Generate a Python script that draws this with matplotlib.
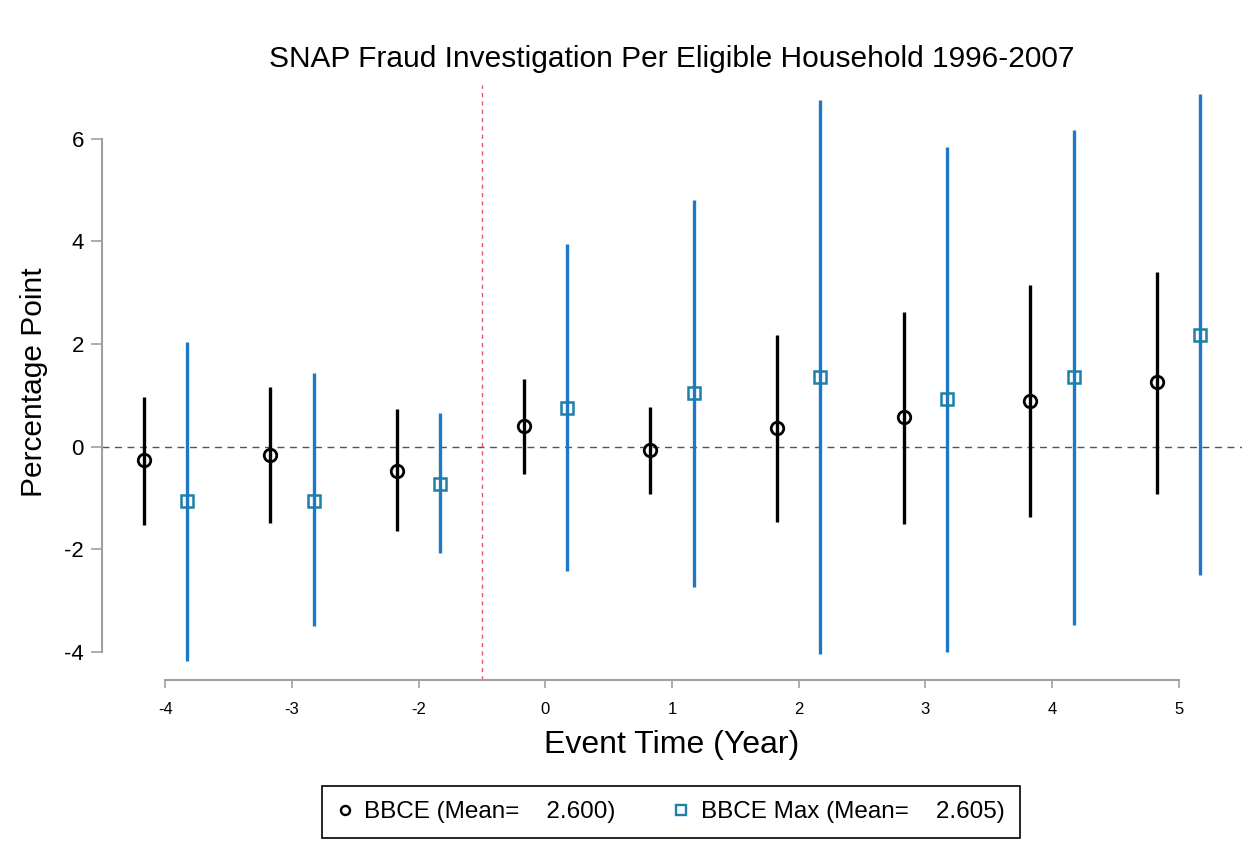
import matplotlib
matplotlib.use("Agg")
import matplotlib.pyplot as plt
import numpy as np
from matplotlib.lines import Line2D

# event-time categories (year -1 is the omitted reference period)
event_labels = ["-4", "-3", "-2", "0", "1", "2", "3", "4", "5"]

# BBCE estimates and 95% CI, percentage points
bbce_coef = [-0.26, -0.16, -0.47, 0.40, -0.06, 0.36, 0.57, 0.89, 1.25]
bbce_lo = [-1.52, -1.49, -1.65, -0.53, -0.92, -1.46, -1.51, -1.37, -0.93]
bbce_hi = [0.97, 1.17, 0.73, 1.31, 0.78, 2.18, 2.62, 3.15, 3.41]

# BBCE Max estimates and 95% CI
bmax_coef = [-1.07, -1.06, -0.72, 0.76, 1.05, 1.35, 0.93, 1.35, 2.18]
bmax_lo = [-4.17, -3.50, -2.08, -2.42, -2.73, -4.05, -4.00, -3.47, -2.50]
bmax_hi = [2.03, 1.43, 0.66, 3.95, 4.80, 6.75, 5.84, 6.17, 6.87]

bbce_mean = 2.600
bmax_mean = 2.605

plt.rcParams["font.family"] = ["Liberation Sans", "DejaVu Sans"]
plt.rcParams["axes.unicode_minus"] = False

GRAY = "#a0a0a0"
BLUE = "#1f78c4"
TEAL = "#1f7fa8"

fig = plt.figure(figsize=(12.47, 8.46), dpi=100)
ax = fig.add_axes([102 / 1247, 166 / 846, 1140 / 1247, 595 / 846])

pos = np.arange(len(event_labels))
off = 0.17

# confidence intervals
ax.vlines(pos - off, bbce_lo, bbce_hi, color="black", linewidth=2.4, zorder=3)
ax.vlines(pos + off, bmax_lo, bmax_hi, color=BLUE, linewidth=2.4, zorder=3)

# point estimates (hollow markers)
ax.plot(pos - off, bbce_coef, linestyle="none", marker="o", markersize=9,
        markerfacecolor="none", markeredgecolor="black", markeredgewidth=2.0, zorder=4)
ax.plot(pos + off, bmax_coef, linestyle="none", marker="s", markersize=8,
        markerfacecolor="none", markeredgecolor=TEAL, markeredgewidth=1.8, zorder=4)

# reference lines
ax.axhline(0, color="#555555", linewidth=1.0, linestyle=(0, (5, 4)), zorder=1)
ax.axvline(2.5, color="#e05a6e", linewidth=1.0, linestyle=(0, (3, 3)), zorder=1)

ax.set_xlim(-0.5, 8.5)
ax.set_ylim(-4.55, 7.05)

# detached Stata-like axes
for side in ["top", "right"]:
    ax.spines[side].set_visible(False)
for side in ["left", "bottom"]:
    ax.spines[side].set_color(GRAY)
    ax.spines[side].set_linewidth(1.5)
ax.spines["left"].set_bounds(-4, 6)
ax.spines["bottom"].set_bounds(0, 8)

ax.set_yticks([-4, -2, 0, 2, 4, 6])
ax.set_xticks(pos)
ax.set_xticklabels(event_labels)
ax.tick_params(axis="y", direction="out", length=8, width=1.2, color=GRAY,
               labelsize=16, pad=5)
ax.tick_params(axis="x", direction="out", length=6, width=1.2, color=GRAY,
               labelsize=12, pad=10)

ax.set_title("SNAP Fraud Investigation Per Eligible Household 1996-2007",
             fontsize=21.5, pad=13)
ax.set_xlabel("Event Time (Year)", fontsize=23, labelpad=9)
ax.set_ylabel("Percentage Point", fontsize=21.5, labelpad=12)

handles = [
    Line2D([], [], linestyle="none", marker="o", markersize=6.5,
           markerfacecolor="none", markeredgecolor="black", markeredgewidth=1.7),
    Line2D([], [], linestyle="none", marker="s", markersize=6.5,
           markerfacecolor="none", markeredgecolor=TEAL, markeredgewidth=1.7),
]
labels = [f"BBCE (Mean=    {bbce_mean:.3f})", f"BBCE Max (Mean=    {bmax_mean:.3f})"]
leg = fig.legend(handles, labels, loc="center", bbox_to_anchor=(671 / 1247, 34 / 846),
                 ncol=2, fontsize=17.5, frameon=True, fancybox=False, framealpha=1,
                 edgecolor="black", handlelength=0.6, handletextpad=0.5,
                 columnspacing=2.4, borderpad=0.62)
leg.get_frame().set_linewidth(1.2)

fig.savefig("out.png", dpi=100)
